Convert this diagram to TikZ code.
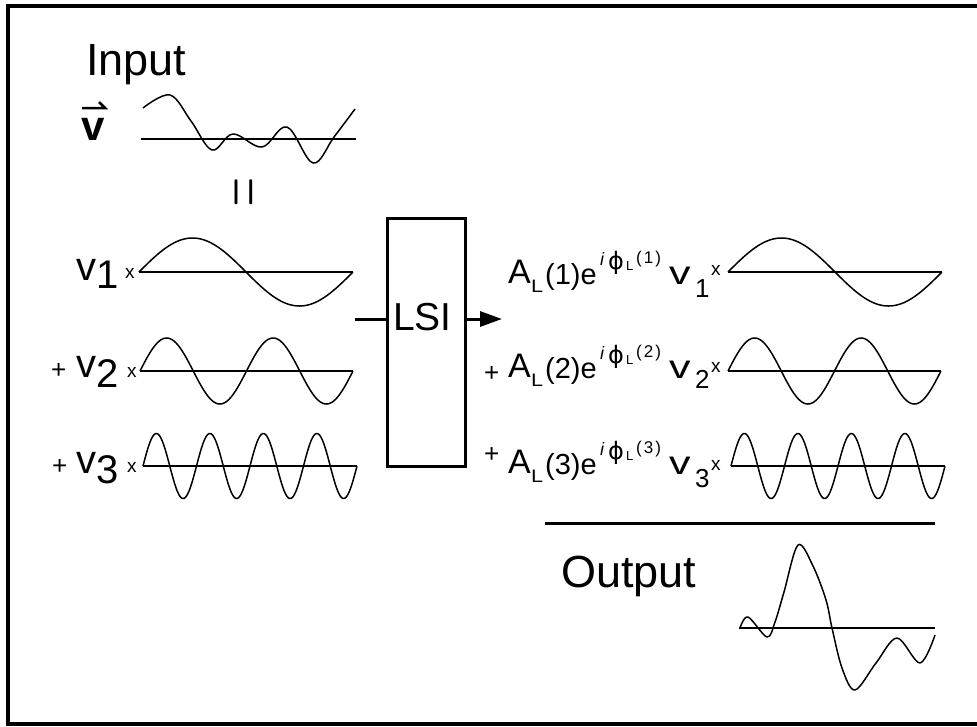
\documentclass[tikz,border=0pt]{standalone}
\usepackage{fontspec}
\usepackage{graphicx}
\setmainfont{Liberation Sans}
\newfontfamily\phif{DejaVu Sans}
\newfontfamily\lmr{Latin Modern Roman}
\usetikzlibrary{arrows.meta}
\newcommand\fs[1]{\fontsize{#1}{#1}\selectfont}
\tikzset{
  axisline/.style={line width=2pt},
  curve/.style={line width=1.5pt, line join=round},
  lab/.style={inner sep=0pt, anchor=base west},
  thick3/.style={line width=3pt}
}
\newcommand\wave[5]{%
  \draw[axisline] (#1,#3) -- (#2,#3);
  \draw[curve] plot[domain=0:1,samples=241] ({#1+(#2-#1)*\x},{#3-#4*sin(360*#5*\x)});}
% #1 index, #2 baseline of A, #3 offset of v subscript baseline, #4 offset of x baseline
\newcommand\outrow[4]{%
  \node[lab] (oA#1) at (508,#2) {\fs{34}A};
  \node[lab] (oL#1) at (531,#2+9) {\scalebox{1.2}[1]{\fs{18}L}};
  \node[lab] (oP#1) at (545,#2+1) {\fs{29}(#1)e};
  \node[lab] (oI#1) at (600,#2-18) {\fs{18}\itshape i};
  \node[lab] (oF#1) at (608,#2-14) {\phif\fs{24}\char"03D5};
  \node[lab] (oS#1) at (626,#2-13) {\fs{13}L};
  \node[lab] (oQ#1) at (636,#2-20) {\fs{17}(\hspace{2pt}#1\hspace{2pt})};
  \node[lab] (oV#1) at (669,#2+1) {\scalebox{1.3}[1]{\fs{33}v}};
  \node[lab] (oN#1) at (695,#2+#3) {\fs{26}#1};
  \node[lab] (oX#1) at (711,#2+#4) {\fs{19}x};
}
\begin{document}
\begin{tikzpicture}[x=1pt,y=-1pt]
\useasboundingbox (0,0) rectangle (977,726);
% frame
\draw[line width=3.5pt] (977,6) -- (8,6) -- (8,724) -- (977,724);
% input
\node[lab] (inputt) at (86,75) {\fs{45}Input};
\node[lab] (vvec) at (81,140) {\fs{42}\bfseries v};
\coordinate (arrA) at (82,108);
\coordinate (arrB) at (105,108);
\coordinate (arrC) at (99,102);
\draw[line width=2.5pt, line join=miter] (arrA) -- (arrB) -- (arrC);
\draw[axisline] (141,139) -- (356,139);
\draw[curve] plot[smooth, tension=0.6] coordinates {(143,108) (170,95) (191,121) (212,150) (233,134) (262,147) (287,127) (313,163) (334,137) (355,109)};
\node[rotate=90, inner sep=0pt] (eq) at (250,192.5) {\lmr\fs{72}\scalebox{0.55}[1.15]{=}};
% left rows
\node[lab] (v1l) at (76,280) {\fs{40}v\raisebox{-8pt}{1}};
\node[lab] (x1l) at (125,278) {\fs{19}x};
\wave{139}{353}{272}{34}{1}
\node[lab] (p2l) at (51,378) {\fs{26}+};
\node[lab] (v2l) at (76,377) {\fs{40}v\raisebox{-10pt}{2}};
\node[lab] (x2l) at (127,377) {\fs{19}x};
\wave{140}{353}{371}{33}{2}
\node[lab] (p3l) at (52,474) {\fs{26}+};
\node[lab] (v3l) at (76,473) {\fs{40}v\raisebox{-10pt}{3}};
\node[lab] (x3l) at (127,472) {\fs{19}x};
\wave{143}{357}{466}{32.5}{4}
% LSI
\node[draw, line width=3pt, minimum width=78pt, minimum height=248pt, inner sep=0pt] (lsi) at (426.5,342.5) {};
\node[lab] (lsit) at (393,330) {\fs{39}LSI};
\coordinate (inL) at (355,319);
\coordinate (outR) at (502,319);
\draw[thick3] (inL) -- (inL -| lsi.west);
\draw[thick3, -{Triangle[length=22pt,width=15pt]}] (outR -| lsi.east) -- (outR);
% right rows
\outrow{1}{283}{14}{-8}
\wave{728}{942}{272}{34}{1}
\node[lab] (p2r) at (484,381) {\fs{26}+};
\outrow{2}{377}{11}{-5}
\wave{728}{941}{371}{33}{2}
\node[lab] (p3r) at (484,462) {\fs{26}+};
\outrow{3}{473}{14}{-3}
\wave{731}{945}{466}{32.5}{4}
% output
\coordinate (sepL) at (545,523);
\coordinate (sepR) at (935,523);
\draw[thick3] (sepL) -- (sepR);
\node[lab] (outputt) at (561,587) {\fs{45}Output};
\draw[axisline] (739,628) -- (935,628);
\draw[curve] plot[smooth, tension=0.55] coordinates {(740,628) (748,617) (767,637) (775,622) (784,592) (798,545) (813,566) (826,600) (832,628) (842,668) (855,690) (876,663) (897,638) (920,663) (935,635)};
\end{tikzpicture}
\end{document}
